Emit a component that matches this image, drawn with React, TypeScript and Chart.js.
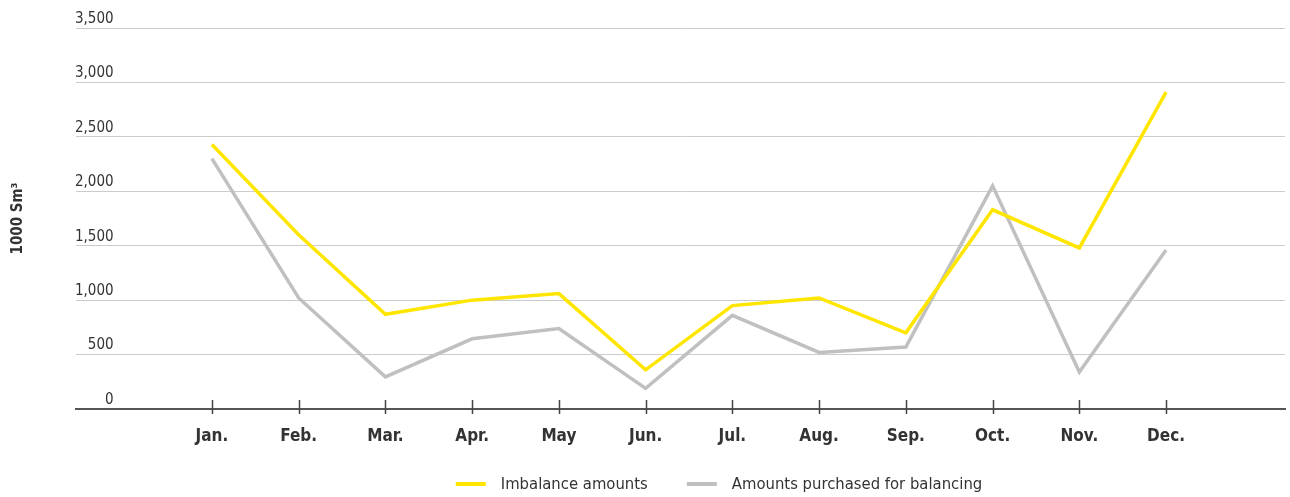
import React, { useEffect, useRef } from "react";
import { Chart, registerables } from "chart.js";

Chart.register(...registerables);

const months = ["Jan.", "Feb.", "Mar.", "Apr.", "May", "Jun.", "Jul.", "Aug.", "Sep.", "Oct.", "Nov.", "Dec."];
const imbalanceAmounts = [2430, 1600, 870, 1000, 1060, 360, 950, 1020, 700, 1830, 1480, 2910];
const purchasedAmounts = [2300, 1020, 295, 645, 740, 190, 860, 520, 570, 2050, 340, 1460];
const yTicks = [0, 500, 1000, 1500, 2000, 2500, 3000, 3500];

const FONT = "'Liberation Sans Narrow', 'DejaVu Sans Condensed', 'Roboto Condensed', 'Noto Sans', sans-serif";
const YELLOW = "#FFE600";
const GREY = "#C0C0C0";

const tickMarks = {
  id: "tickMarks",
  afterDraw(chart: any) {
    const x = chart.scales.x;
    const y0 = chart.scales.y.getPixelForValue(0);
    const ctx = chart.ctx;
    ctx.save();
    ctx.strokeStyle = "#444";
    ctx.lineWidth = 1.5;
    months.forEach((_, i) => {
      const px = Math.round(x.getPixelForValue(i)) + 0.5;
      ctx.beginPath();
      ctx.moveTo(px, y0 - 9);
      ctx.lineTo(px, y0 + 5);
      ctx.stroke();
    });
    ctx.restore();
  },
};

const bottomLegend = {
  id: "bottomLegend",
  afterDraw(chart: any) {
    const ctx = chart.ctx;
    ctx.save();
    ctx.font = `16.5px ${FONT}`;
    ctx.textBaseline = "middle";
    ctx.textAlign = "left";
    const sample = 30;
    const gapText = 15;
    const gapItem = 39;
    const items = chart.data.datasets.map((d: any) => ({
      label: d.label as string,
      color: d.borderColor as string,
      w: ctx.measureText(d.label).width,
    }));
    const total =
      items.reduce((s: number, it: any) => s + sample + gapText + it.w, 0) + gapItem * (items.length - 1);
    const centerX = 719;
    const y = chart.height - 13;
    let x = centerX - total / 2;
    items.forEach((it: any) => {
      ctx.fillStyle = it.color;
      ctx.fillRect(x, y - 2, sample, 4);
      x += sample + gapText;
      ctx.fillStyle = "#333";
      ctx.fillText(it.label, x, y + 1);
      x += it.w + gapItem;
    });
    ctx.restore();
  },
};

export default function App() {
  const ref = useRef<HTMLCanvasElement>(null);
  useEffect(() => {
    if (!ref.current) return;
    const chart = new Chart(ref.current, {
      type: "line",
      data: {
        datasets: [
          {
            label: "Imbalance amounts",
            data: imbalanceAmounts.map((y, i) => ({ x: i, y })),
            borderColor: YELLOW,
            backgroundColor: YELLOW,
            borderWidth: 3.5,
            pointRadius: 0,
            tension: 0,
          },
          {
            label: "Amounts purchased for balancing",
            data: purchasedAmounts.map((y, i) => ({ x: i, y })),
            borderColor: GREY,
            backgroundColor: GREY,
            borderWidth: 3.5,
            pointRadius: 0,
            tension: 0,
          },
        ],
      },
      options: {
        animation: false,
        responsive: true,
        maintainAspectRatio: false,
        layout: { padding: { top: 28, right: 5, bottom: 32, left: 0 } },
        plugins: {
          tooltip: { enabled: false },
          legend: { display: false },
        },
        scales: {
          x: {
            type: "linear",
            min: -1.567,
            max: 12.371,
            afterBuildTicks: (s: any) => {
              s.ticks = months.map((_, i) => ({ value: i }));
            },
            grid: { display: false, drawTicks: false },
            border: { display: true, color: "#555", width: 2 },
            ticks: {
              autoSkip: false,
              maxRotation: 0,
              padding: 23,
              color: "#333",
              font: { family: FONT, size: 17, weight: "bold", lineHeight: 0.588 },
              callback: (v: any) => months[v] ?? "",
            },
          },
          y: {
            min: 0,
            max: 3500,
            afterBuildTicks: (s: any) => {
              s.ticks = yTicks.map((v) => ({ value: v }));
            },
            grid: { color: "#CCCCCC", lineWidth: 1, drawTicks: false },
            border: { display: false },
            ticks: {
              mirror: true,
              crossAlign: "far",
              padding: -1,
              labelOffset: -9,
              color: "#333",
              font: { family: FONT, size: 15 },
              callback: (v: any) => Number(v).toLocaleString("en-US"),
            },
            title: {
              display: true,
              text: "1000 Sm³",
              color: "#333",
              font: { family: FONT, size: 15, weight: "bold" },
              padding: { top: 9, bottom: 51 },
            },
          },
        },
      },
      plugins: [tickMarks, bottomLegend],
    });
    return () => chart.destroy();
  }, []);
  return (
    <div style={{ position: "absolute", left: 0, top: 0, width: 1290, height: 497 }}>
      <canvas ref={ref} />
    </div>
  );
}
